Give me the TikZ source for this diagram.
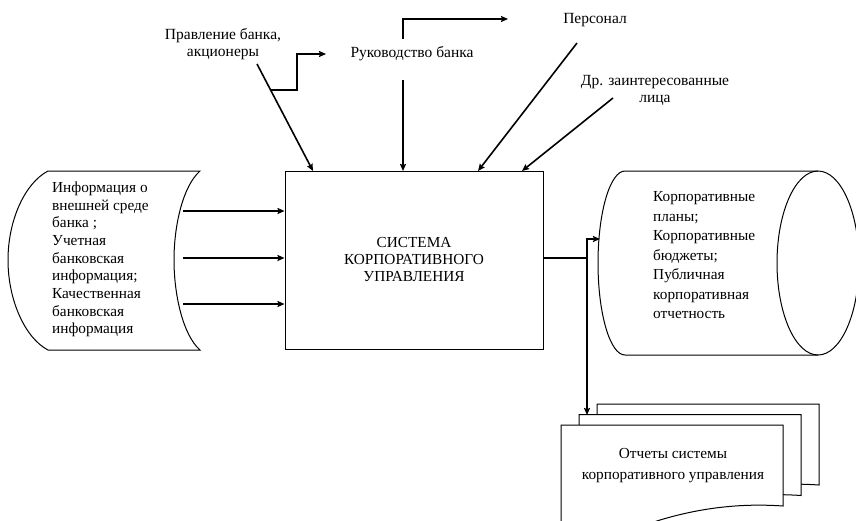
\documentclass[tikz,border=0pt]{standalone}
\usepackage{fontspec}
\setmainfont{Liberation Serif}
\usetikzlibrary{arrows.meta,calc}
\begin{document}
\begin{tikzpicture}[x=1pt,y=-1pt,
  arr/.style={line width=1.6pt,-{Stealth[length=7pt,width=6pt,inset=1pt]}},
  conn/.style={line width=1.6pt},
  outline/.style={line width=1pt},
  lbl/.style={font=\fontsize{15.5}{17.5}\selectfont,align=center,inner sep=0pt},
  ltxt/.style={font=\fontsize{15.3}{17.7}\selectfont,align=left,inner sep=0pt,anchor=west},
  rtxt/.style={font=\fontsize{15.3}{19.5}\selectfont,align=left,inner sep=0pt,anchor=west},
  boxstyle/.style={draw,line width=1pt,minimum width=258pt,minimum height=178pt,inner sep=0pt,align=center,font=\fontsize{15.3}{17}\selectfont}
]
\useasboundingbox (0,0) rectangle (856,520);

% central box
\node[boxstyle] (sys) at (414,260) {СИСТЕМА\\КОРПОРАТИВНОГО\\УПРАВЛЕНИЯ};

% left stored-data shape
\draw[outline] (48,171) -- (200,171) .. controls (183,186) and (174,225) .. (174,260)
  .. controls (174,295) and (183,335) .. (200,350)
  -- (48,350) .. controls (25,338) and (8,300) .. (8,260)
  .. controls (8,220) and (25,183) .. (48,171);
\node[ltxt] (inp) at (52,259.5) {Информация о\\внешней среде\\банка ;\\Учетная\\банковская\\информация;\\Качественная\\банковская\\информация};

% left arrows
\coordinate (l1) at (183,211);
\coordinate (l2) at (183,258);
\coordinate (l3) at (183,304);
\draw[arr] (l1) -- (l1 -| sys.west);
\draw[arr] (l2) -- (l2 -| sys.west);
\draw[arr] (l3) -- (l3 -| sys.west);

% top labels
\node[lbl] (prav) at (223,44) {Правление банка,\\акционеры};
\node[lbl] (ruk) at (412,54) {Руководство банка};
\node[lbl] (pers) at (595,20) {Персонал};
\node[lbl,font=\fontsize{15.5}{17}\selectfont] (dr) at (655,90) {Др. заинтересованные\\лица};

% top connectors
\coordinate (p1) at (257,64);
\coordinate (p2) at (313,171);
\draw[arr] (p1) -- (p2);
\coordinate (pb) at ($(p1)!0.243!(p2)$);
\coordinate (pe) at (326,54);
\draw[arr] (pb) -- (297,90) -- (297,54) -- (pe);

\coordinate (r1) at (403,80);
\coordinate (r2) at (403,171);
\draw[arr] (r1) -- (r2);
\coordinate (r0) at (403,39);
\coordinate (r3) at (508,19);
\draw[arr] (r0) |- (r3);

\coordinate (s1) at (577,43);
\coordinate (s2) at (478,171);
\draw[arr] (s1) -- (s2);
\coordinate (d1) at (613,98);
\coordinate (d2) at (522,171);
\draw[arr] (d1) -- (d2);

% right cylinder
\draw[outline] (818,171) -- (625,171) .. controls (610.1,171) and (598,212.2) .. (598,263)
  .. controls (598,313.8) and (610.1,355) .. (625,355) -- (818,355);
\draw[outline] (818,263) ellipse [x radius=41pt, y radius=92pt];
\node[rtxt] (outp) at (653,255.5) {Корпоративные\\планы;\\Корпоративные\\бюджеты;\\Публичная\\корпоративная\\отчетность};

% documents
\foreach \dx/\dy in {36/-21,18/-10.5,0/0} {
  \draw[outline,fill=white,shift={(\dx,\dy)}] (561,425) -- (783,425) -- (783,506)
    .. controls (740,503) and (700,508) .. (660,520) .. controls (630,530) and (595,540) .. (561,540) -- cycle;
}
\node[lbl,font=\fontsize{15.3}{21}\selectfont] (docs) at (673,465.5) {Отчеты системы\\корпоративного управления};

% output connectors
\coordinate (jn) at (587,258);
\coordinate (cin) at (600,239);
\coordinate (din) at (587,415);
\draw[conn] (sys.east |- jn) -- (jn);
\draw[line width=1.6pt,{Stealth[length=7pt,width=6pt,inset=1pt]}-{Stealth[length=7pt,width=6pt,inset=1pt]}] (cin) -| (din);
\end{tikzpicture}
\end{document}
